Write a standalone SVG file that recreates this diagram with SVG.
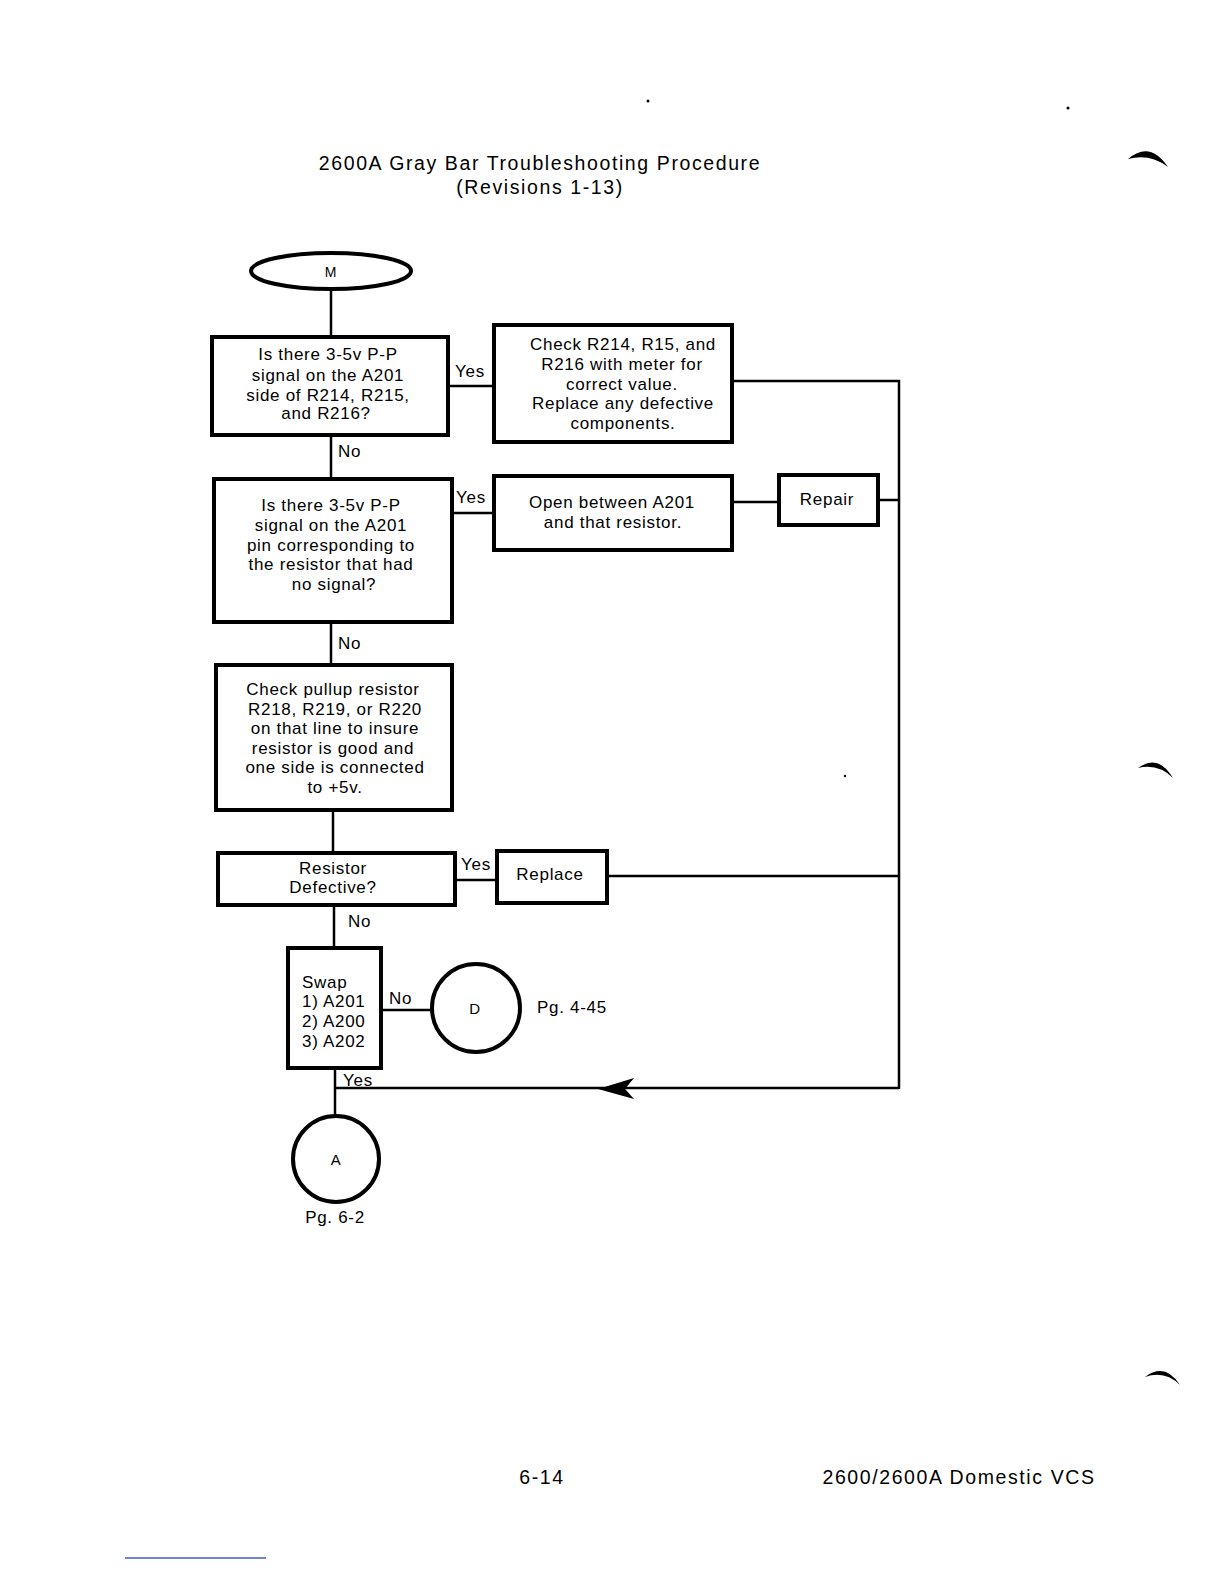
<svg xmlns="http://www.w3.org/2000/svg" width="1224" height="1584" viewBox="0 0 1224 1584">
<defs>
<style>
.box{fill:#fff;stroke:#000;stroke-width:4}
.ln{fill:none;stroke:#000;stroke-width:2.5}
text{font-family:"Liberation Sans","DejaVu Sans",sans-serif;font-size:17px;letter-spacing:0.7px;fill:#000}
.c{text-anchor:middle}
.t{font-size:19.5px;letter-spacing:1.6px}
.f{font-size:19.5px;letter-spacing:1.6px}
</style>
</defs>
<rect width="1224" height="1584" fill="#fff"/>
<text class="t c" x="540" y="170">2600A Gray Bar Troubleshooting Procedure</text>
<text class="t c" x="540" y="194">(Revisions 1-13)</text>
<g id="connectors">
<path class="ln" d="M331 289V337"/>
<path class="ln" d="M448 386H494"/>
<path class="ln" d="M732 381H899V1089"/>
<path class="ln" d="M331 435V479"/>
<path class="ln" d="M452 513H494"/>
<path class="ln" d="M732 502H779"/>
<path class="ln" d="M878 500H899"/>
<path class="ln" d="M331 622V665"/>
<path class="ln" d="M333 810V853"/>
<path class="ln" d="M455 880H497"/>
<path class="ln" d="M607 876H899"/>
<path class="ln" d="M334 905V948"/>
<path class="ln" d="M381 1010H432"/>
<path class="ln" d="M335 1068V1115"/>
<path class="ln" d="M899 1088H335"/>
<path d="M598 1089L634 1078L625 1089L634 1099Z" fill="#000"/>
<text x="455" y="377">Yes</text>
<text x="338" y="457">No</text>
<text x="456" y="503">Yes</text>
<text x="338" y="649">No</text>
<text x="461" y="870">Yes</text>
<text x="348" y="927">No</text>
<text x="389" y="1004">No</text>
<text x="343" y="1086">Yes</text>
</g>
<g id="start">
<ellipse class="box" cx="331" cy="271" rx="80" ry="18"/>
<text class="c" x="331" y="277" style="font-size:14px">M</text>
</g>
<g id="q1">
<rect class="box" x="212" y="337" width="236" height="98"/>
<text class="c" x="328" y="360">Is there 3-5v P-P</text>
<text class="c" x="328" y="381">signal on the A201</text>
<text class="c" x="328" y="401">side of R214, R215,</text>
<text class="c" x="326" y="419">and R216?</text>
</g>
<g id="check1">
<rect class="box" x="494" y="325" width="238" height="117"/>
<text class="c" x="623" y="350">Check R214, R15, and</text>
<text class="c" x="622" y="370">R216 with meter for</text>
<text class="c" x="622" y="390">correct value.</text>
<text class="c" x="623" y="409">Replace any defective</text>
<text class="c" x="623" y="429">components.</text>
</g>
<g id="q2">
<rect class="box" x="214" y="479" width="238" height="143"/>
<text class="c" x="331" y="511">Is there 3-5v P-P</text>
<text class="c" x="331" y="531">signal on the A201</text>
<text class="c" x="331" y="551">pin corresponding to</text>
<text class="c" x="331" y="570">the resistor that had</text>
<text class="c" x="334" y="590">no signal?</text>
</g>
<g id="open">
<rect class="box" x="494" y="476" width="238" height="74"/>
<text class="c" x="612" y="508">Open between A201</text>
<text class="c" x="613" y="528">and that resistor.</text>
</g>
<g id="repair">
<rect class="box" x="779" y="475" width="99" height="50"/>
<text class="c" x="827" y="505">Repair</text>
</g>
<g id="check2">
<rect class="box" x="216" y="665" width="236" height="145"/>
<text class="c" x="333" y="695">Check pullup resistor</text>
<text class="c" x="335" y="715">R218, R219, or R220</text>
<text class="c" x="335" y="734">on that line to insure</text>
<text class="c" x="333" y="754">resistor is good and</text>
<text class="c" x="335" y="773">one side is connected</text>
<text class="c" x="335" y="793">to +5v.</text>
</g>
<g id="q3">
<rect class="box" x="218" y="853" width="237" height="52"/>
<text class="c" x="333" y="874">Resistor</text>
<text class="c" x="333" y="893">Defective?</text>
</g>
<g id="replace">
<rect class="box" x="497" y="851" width="110" height="52"/>
<text class="c" x="550" y="880">Replace</text>
</g>
<g id="swap">
<rect class="box" x="288" y="948" width="93" height="120"/>
<text x="302" y="988">Swap</text>
<text x="302" y="1007">1) A201</text>
<text x="302" y="1027">2) A200</text>
<text x="302" y="1047">3) A202</text>
</g>
<g id="d">
<circle class="box" cx="476" cy="1008" r="44"/>
<text class="c" x="475" y="1014" style="font-size:15px">D</text>
<text x="537" y="1013">Pg. 4-45</text>
</g>
<g id="a">
<circle class="box" cx="336" cy="1159" r="43"/>
<text class="c" x="336" y="1165" style="font-size:15px">A</text>
<text class="c" x="335" y="1223">Pg. 6-2</text>
</g>
<text class="f c" x="542" y="1484">6-14</text>
<text class="f c" x="959" y="1484">2600/2600A Domestic VCS</text>
<g id="marks" fill="#000">
<path d="M1128 159Q1150 140 1168 167Q1150 153 1128 159Z"/>
<path d="M1138 768Q1158 753 1173 778Q1158 763 1138 768Z"/>
<path d="M1145 1377Q1165 1362 1180 1385Q1165 1370 1145 1377Z"/>
<circle cx="648" cy="101" r="1.5"/>
<circle cx="1068" cy="108" r="1.5"/>
<circle cx="845" cy="776" r="1.2"/>
</g>
<path d="M125 1558H266" stroke="#4060c0" stroke-width="1.5"/>
</svg>
